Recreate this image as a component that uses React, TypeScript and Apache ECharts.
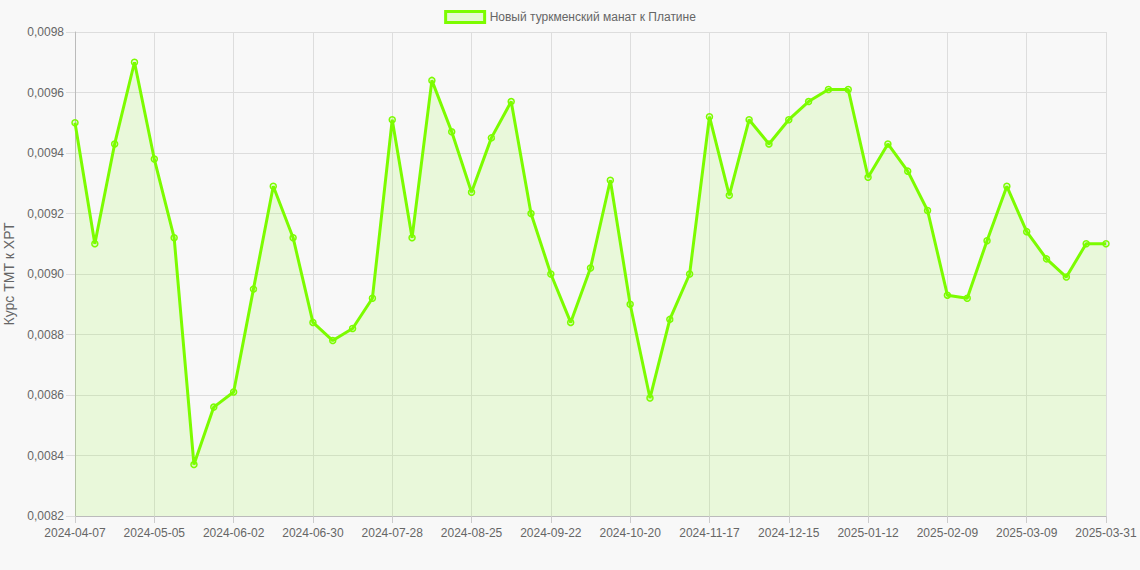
import React, { useEffect, useRef } from "react";
import * as echarts from "echarts";

const categories: string[] = [
  "2024-04-07", "2024-04-14", "2024-04-21", "2024-04-28", "2024-05-05", "2024-05-12", "2024-05-19",
  "2024-05-26", "2024-06-02", "2024-06-09", "2024-06-16", "2024-06-23", "2024-06-30", "2024-07-07",
  "2024-07-14", "2024-07-21", "2024-07-28", "2024-08-04", "2024-08-11", "2024-08-18", "2024-08-25",
  "2024-09-01", "2024-09-08", "2024-09-15", "2024-09-22", "2024-09-29", "2024-10-06", "2024-10-13",
  "2024-10-20", "2024-10-27", "2024-11-03", "2024-11-10", "2024-11-17", "2024-11-24", "2024-12-01",
  "2024-12-08", "2024-12-15", "2024-12-22", "2024-12-29", "2025-01-05", "2025-01-12", "2025-01-19",
  "2025-01-26", "2025-02-02", "2025-02-09", "2025-02-16", "2025-02-23", "2025-03-02", "2025-03-09",
  "2025-03-16", "2025-03-23", "2025-03-30", "2025-03-31",
];

const rates: number[] = [
  0.00950, 0.00910, 0.00943, 0.00970, 0.00938, 0.00912, 0.00837,
  0.00856, 0.00861, 0.00895, 0.00929, 0.00912, 0.00884, 0.00878,
  0.00882, 0.00892, 0.00951, 0.00912, 0.00964, 0.00947, 0.00927,
  0.00945, 0.00957, 0.00920, 0.00900, 0.00884, 0.00902, 0.00931,
  0.00890, 0.00859, 0.00885, 0.00900, 0.00952, 0.00926, 0.00951,
  0.00943, 0.00951, 0.00957, 0.00961, 0.00961, 0.00932, 0.00943,
  0.00934, 0.00921, 0.00893, 0.00892, 0.00911, 0.00929, 0.00914,
  0.00905, 0.00899, 0.00910, 0.00910,
];

const seriesName = "Новый туркменский манат к Платине";
const yAxisName = "Курс ТМТ к ХРТ";
const yMin = 0.0082;
const yMax = 0.0098;
const yStep = 0.0002;

export default function App() {
  const ref = useRef<HTMLDivElement>(null);

  useEffect(() => {
    if (!ref.current) return;
    const chart = echarts.init(ref.current, undefined, { renderer: "svg" });
    const font = "'Liberation Sans', Arial, sans-serif";
    chart.setOption({
      animation: false,
      backgroundColor: "#f8f8f8",
      textStyle: { fontFamily: font },
      legend: {
        top: 5,
        left: "center",
        icon: "rect",
        itemWidth: 39,
        itemHeight: 11,
        itemGap: 10,
        textStyle: { color: "#666", fontSize: 12, fontFamily: font },
        data: [
          {
            name: seriesName,
            itemStyle: {
              color: "rgba(124,252,0,0.15)",
              borderColor: "#7cfc00",
              borderWidth: 3,
            },
          },
        ],
      },
      grid: {
        left: 75,
        right: 34,
        top: 32,
        bottom: 54,
        containLabel: false,
        outerBoundsMode: "none",
      },
      xAxis: {
        type: "category",
        data: categories,
        boundaryGap: false,
        axisLine: { show: true, lineStyle: { color: "#bbb", width: 1 } },
        axisTick: { show: true, interval: 3, length: 7, lineStyle: { color: "#ccc" } },
        axisLabel: {
          interval: 3,
          color: "#666",
          fontSize: 12,
          fontFamily: font,
          margin: 11,
        },
        splitLine: { show: true, interval: 3, lineStyle: { color: "#ddd", width: 1 } },
      },
      yAxis: {
        type: "value",
        min: yMin,
        max: yMax,
        interval: yStep,
        name: yAxisName,
        nameLocation: "middle",
        nameGap: 56,
        nameRotate: 90,
        nameTextStyle: { color: "#666", fontSize: 14, fontFamily: font },
        axisLine: { show: true, lineStyle: { color: "#bbb", width: 1 } },
        axisTick: { show: true, length: 9, lineStyle: { color: "#ddd" } },
        axisLabel: {
          color: "#666",
          fontSize: 12,
          fontFamily: font,
          margin: 11,
          formatter: (v: number) => v.toFixed(4).replace(".", ","),
        },
        splitLine: { show: true, lineStyle: { color: "#ddd", width: 1 } },
      },
      series: [
        {
          name: seriesName,
          type: "line",
          data: rates,
          symbol: "circle",
          symbolSize: 6,
          showSymbol: true,
          lineStyle: { color: "#7cfc00", width: 3 },
          itemStyle: {
            color: "rgba(124,252,0,0.15)",
            borderColor: "#7cfc00",
            borderWidth: 1.5,
          },
          areaStyle: { color: "rgba(124,252,0,0.17)", origin: "start" },
        },
      ],
    });
    return () => chart.dispose();
  }, []);

  return (
    <div
      ref={ref}
      style={{ position: "fixed", left: 0, top: 0, width: 1140, height: 570 }}
    />
  );
}
